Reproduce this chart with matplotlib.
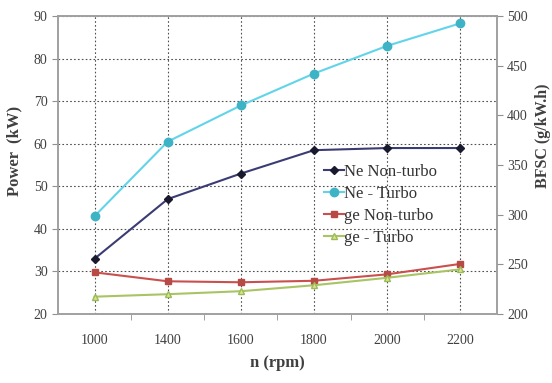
import matplotlib
matplotlib.use("Agg")
import matplotlib.pyplot as plt
import numpy as np

plt.rcParams['font.family'] = ['Liberation Serif', 'DejaVu Serif']

rpm = ['1000', '1400', '1600', '1800', '2000', '2200']
ne_nonturbo = [33, 47, 53, 58.5, 59, 59]
ne_turbo = [43, 60.5, 69, 76.5, 83, 88.3]
ge_nonturbo = [242, 233, 232, 233.5, 240, 250.5]
ge_turbo = [217.5, 220, 223, 229, 236.5, 245]

fig = plt.figure(figsize=(5.52, 3.83), dpi=100)
ax = fig.add_axes([0.105, 0.180, 0.795, 0.778])
ax2 = ax.twinx()

x = np.arange(len(rpm))
txt = '#404040'

l1, = ax.plot(x, ne_nonturbo, color='#3c3c74', lw=1.5, marker='D', ms=4,
              mfc='#1a1a2e', mec='#1a1a2e', label='Ne Non-turbo', zorder=5)
l2, = ax.plot(x, ne_turbo, color='#62d4ea', lw=1.5, marker='o', ms=6,
              mfc='#3fb3c6', mec='#3fb3c6', label='Ne - Turbo', zorder=5)
l3, = ax2.plot(x, ge_nonturbo, color='#c9504d', lw=1.5, marker='s', ms=5,
               mfc='#b84a46', mec='#b84a46', label='ge Non-turbo', zorder=5)
l4, = ax2.plot(x, ge_turbo, color='#a8c464', lw=1.5, marker='^', ms=4,
               mfc='#d7e68a', mec='#9bbb59', label='ge - Turbo', zorder=5)

ax.set_xlim(-0.5, len(rpm) - 0.5)
ax.set_ylim(20, 90)
ax.set_yticks(np.arange(20, 91, 10))
ax2.set_ylim(200, 500)
ax2.set_yticks(np.arange(200, 501, 50))

ax.set_xticks(x)
ax.set_xticklabels(rpm)
ax.set_xticks(np.arange(0.5, len(rpm) - 1, 1), minor=True)
ax.tick_params(axis='x', which='major', length=0, pad=14, labelsize=10, labelcolor=txt)
ax.tick_params(axis='x', which='minor', length=4, direction='out', color='#909090')
ax.tick_params(axis='y', length=4, color='#909090', labelsize=10, labelcolor=txt)
ax2.tick_params(axis='y', length=4, color='#909090', labelsize=10, labelcolor=txt)

ax.grid(True, which='major', axis='both', color='#505050', ls=(0, (1.5, 2)), lw=0.8)
ax.set_axisbelow(True)

for a in (ax, ax2):
    for s in a.spines.values():
        s.set_color('#a0a0a0')
        s.set_linewidth(1.2)

ax.set_ylabel('Power  (kW)', fontsize=12, fontweight='bold', color=txt)
ax.yaxis.set_label_coords(-0.082, 0.547)
ax2.set_ylabel('BFSC (g/kW.h)', fontsize=11.5, fontweight='bold', color=txt,
               rotation=90)
ax2.yaxis.set_label_coords(1.087, 0.597)
ax.set_xlabel('n (rpm)', fontsize=12, fontweight='bold', color=txt, labelpad=6)

leg = ax.legend(handles=[l1, l2, l3, l4], loc='upper left',
                bbox_to_anchor=(0.58, 0.542), frameon=False, fontsize=12,
                handlelength=1.2, handletextpad=0.0, labelspacing=0.35,
                borderpad=0.2)
for t in leg.get_texts():
    t.set_color('#333333')

fig.savefig('out.png', dpi=100)
